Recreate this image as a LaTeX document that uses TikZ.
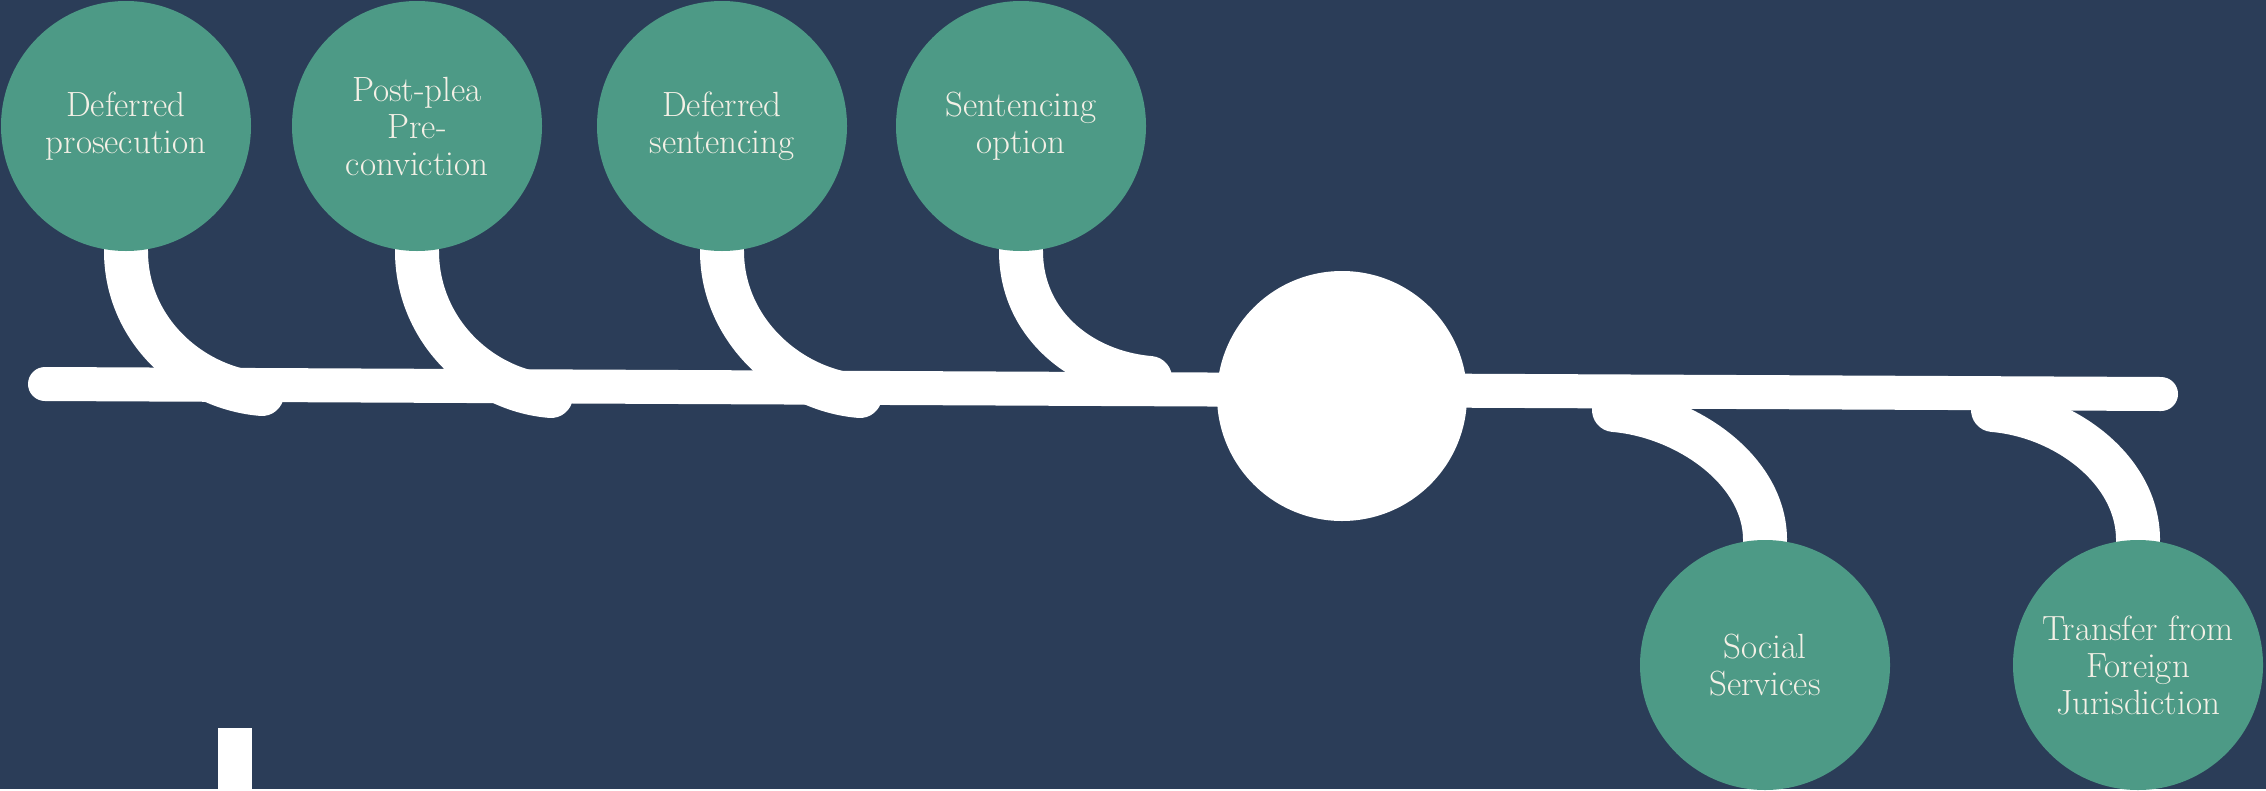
\documentclass[tikz,border=0pt]{standalone}
\definecolor{navy}{HTML}{2B3D58}
\definecolor{sage}{HTML}{4D9A86}
\definecolor{cream}{HTML}{F4F0E6}
\pgfdeclarelayer{bg}
\pgfdeclarelayer{links}
\pgfsetlayers{bg,links,main}
\tikzset{
    bubble/.style={circle,fill=sage,inner sep=0,minimum size=250pt,align=center,text=cream,font=\fontsize{35}{37}\selectfont},
    hub/.style={circle,fill=white,inner sep=0,minimum size=250pt},
    spine/.style={white,line width=34pt,line cap=round},
    branch/.style={white,line width=44pt,line cap=round}
    }
\begin{document}
\begin{tikzpicture}[x=1pt,y=-1pt]
                % The stages
                \node(d1)[bubble] at (126,126) {Deferred\\prosecution};
                \node(d2)[bubble] at (417,126) {Post-plea\\Pre-\\conviction};
                \node(d3)[bubble] at (722,126) {Deferred\\sentencing};
                \node(d4)[bubble] at (1021,126) {Sentencing\\option};
                \node(hub)[hub] at (1342,396) {};
                \node(s1)[bubble] at (1765,665) {Social\\Services};
                \node(s2)[bubble] at (2138,665) {Transfer from\\Foreign\\Jurisdiction};
                % The joints
                \coordinate(j1) at (262,394);
                \coordinate(j2) at (551,396);
                \coordinate(j3) at (860,396);
                \coordinate(j4) at (1150,378);
                \coordinate(j5) at (1614,410);
                \coordinate(j6) at (1993,410);
                \coordinate(left) at (45,384);
                \coordinate(right) at (2161,394);
                \begin{pgfonlayer}{bg}
                    \fill[navy] (0,0) rectangle (2266,789);
                \end{pgfonlayer}
                \useasboundingbox (0,0) rectangle (2266,789);
                \begin{pgfonlayer}{links}
                    \draw[spine] (left) -- (right);
                    \draw[branch] (d1.south) .. controls +(0,78) and +(-72,-6) .. (j1);
                    \draw[branch] (d2.south) .. controls +(0,78) and +(-72,-6) .. (j2);
                    \draw[branch] (d3.south) .. controls +(0,78) and +(-72,-6) .. (j3);
                    \draw[branch] (d4.south) .. controls +(0,72) and +(-70,-6) .. (j4);
                    \draw[branch] (j5) .. controls +(72,6) and +(0,-70) .. (s1.north);
                    \draw[branch] (j6) .. controls +(72,6) and +(0,-70) .. (s2.north);
                \end{pgfonlayer}
                \fill[white] (218,728) rectangle (252,789);
            \end{tikzpicture}
\end{document}
